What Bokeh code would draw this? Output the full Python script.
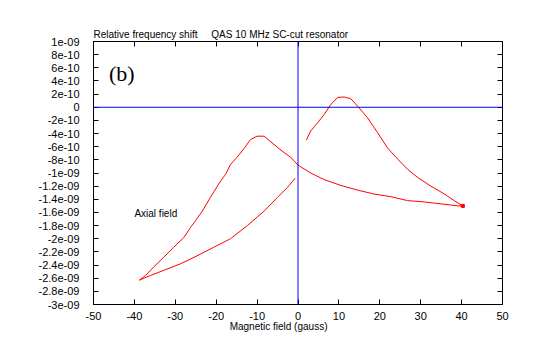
from bokeh.plotting import figure
from bokeh.models import Range1d, FixedTicker, LinearAxis, Label, Span
from bokeh.embed import file_html
from bokeh.resources import INLINE

# Magnetic field (gauss) and relative frequency shift, one continuous hysteresis trace
field = [2.05, 3.1, 4.75, 6.4, 8.0, 9.7, 11.3, 12.9, 14.6, 17.0, 19.5, 21.9, 24.4, 26.8, 29.3, 32.5, 35.8, 38.2, 40.3,
         39.1, 35.0, 30.9, 26.8, 22.7, 18.6, 14.6, 10.5, 6.4, 3.1, 0.0, -1.8, -3.4, -5.9, -8.3, -10.0, -11.6,
         -13.2, -14.9, -16.5, -17.7, -18.9, -21.4, -23.4, -25.0, -26.3, -27.9, -30.4, -32.8, -35.3, -37.3, -38.8,
         -36.1, -32.8, -28.7, -24.7, -20.6, -16.5, -12.4, -8.3, -5.0, -2.6, -0.7]
shift = [-5.0e-10, -3.6e-10, -2.4e-10, -1.1e-10, 0.4e-10, 1.5e-10, 1.56e-10, 1.3e-10, 0.15e-10, -1.6e-10, -3.9e-10,
         -6.2e-10, -7.9e-10, -9.45e-10, -10.7e-10, -12.0e-10, -13.2e-10, -14.2e-10, -15.0e-10,
         -15.0e-10, -14.7e-10, -14.4e-10, -14.2e-10, -13.6e-10, -13.2e-10, -12.6e-10, -11.9e-10, -11.0e-10,
         -10.0e-10, -8.8e-10, -7.6e-10, -6.9e-10, -5.65e-10, -4.4e-10, -4.4e-10, -4.9e-10,
         -6.3e-10, -7.6e-10, -8.7e-10, -10.2e-10, -11.2e-10, -13.7e-10, -15.8e-10, -17.2e-10, -18.3e-10,
         -19.8e-10, -21.3e-10, -22.8e-10, -24.3e-10, -25.6e-10, -26.3e-10,
         -25.6e-10, -24.8e-10, -23.8e-10, -22.6e-10, -21.3e-10, -20.0e-10, -18.0e-10, -15.8e-10, -13.7e-10,
         -12.2e-10, -10.8e-10]

x_ticks = [-50, -40, -30, -20, -10, 0, 10, 20, 30, 40, 50]
y_tick_labels = ["1e-09", "8e-10", "6e-10", "4e-10", "2e-10", "0", "-2e-10", "-4e-10", "-6e-10", "-8e-10",
                 "-1e-09", "-1.2e-09", "-1.4e-09", "-1.6e-09", "-1.8e-09", "-2e-09", "-2.2e-09", "-2.4e-09",
                 "-2.6e-09", "-2.8e-09", "-3e-09"]
y_ticks = [float(s) for s in y_tick_labels]

FONT = "Liberation Sans"
FS = "11px"
FS_T = "10px"
NB = "\u00a0"

p = figure(width=540, height=355, output_backend="svg", toolbar_location=None,
           x_range=Range1d(-50, 50), y_range=Range1d(-3e-9, 1e-9),
           min_border_left=93, min_border_right=38, min_border_top=41, min_border_bottom=51)
p.grid.visible = False
p.outline_line_color = "black"
p.outline_line_width = 1
p.background_fill_color = "white"
p.border_fill_color = "white"

p.title.text = "Relative frequency shift" + NB * 5 + "QAS 10 MHz SC-cut resonator"
p.title.align = "left"
p.title.text_font = FONT
p.title.text_font_size = FS_T
p.title.text_font_style = "normal"
p.title.text_color = "black"
p.title.standoff = 4
p.title.offset = 0

def style(ax, ticks, labels=None):
    ax.ticker = FixedTicker(ticks=ticks)
    ax.minor_tick_line_color = None
    ax.major_tick_in = 5
    ax.major_tick_out = 0
    ax.axis_line_color = "black"
    ax.major_tick_line_color = "black"
    ax.major_label_text_font = FONT
    ax.major_label_text_font_size = FS
    ax.major_label_text_color = "black"
    if labels is not None:
        ax.major_label_overrides = {t: l for t, l in zip(ticks, labels)}

style(p.xaxis[0], x_ticks, [str(t) for t in x_ticks])
p.xaxis[0].major_label_standoff = 7
p.xaxis[0].axis_label = "Magnetic field (gauss)" + NB * 14
p.xaxis[0].axis_label_text_font = FONT
p.xaxis[0].axis_label_text_font_size = FS_T
p.xaxis[0].axis_label_text_font_style = "normal"
p.xaxis[0].axis_label_text_color = "black"
p.xaxis[0].axis_label_standoff = -2

style(p.yaxis[0], y_ticks, y_tick_labels)
p.yaxis[0].major_label_standoff = 14

top = LinearAxis()
style(top, x_ticks, ["" for _ in x_ticks])
top.major_label_standoff = 0
p.add_layout(top, "above")
right = LinearAxis()
style(right, y_ticks, ["" for _ in y_ticks])
right.major_label_standoff = 0
p.add_layout(right, "right")

p.add_layout(Span(location=0, dimension="width", line_color="#0000ff", line_width=1))
p.add_layout(Span(location=0, dimension="height", line_color="#0000ff", line_width=1))

p.line(field, shift, line_color="#ff0000", line_width=1)
p.scatter([field[18]], [shift[18]], marker="square", size=3, color="#ff0000")

p.add_layout(Label(x=-46.2, y=5.2e-10, text="(b)", text_font="Liberation Serif",
                   text_font_size="22px", text_baseline="middle", text_color="black"))
p.add_layout(Label(x=-40.0, y=-1.61e-9, text="Axial field", text_font=FONT,
                   text_font_size=FS_T, text_baseline="middle", text_color="black"))

open("out.html", "w").write(file_html(p, INLINE))
